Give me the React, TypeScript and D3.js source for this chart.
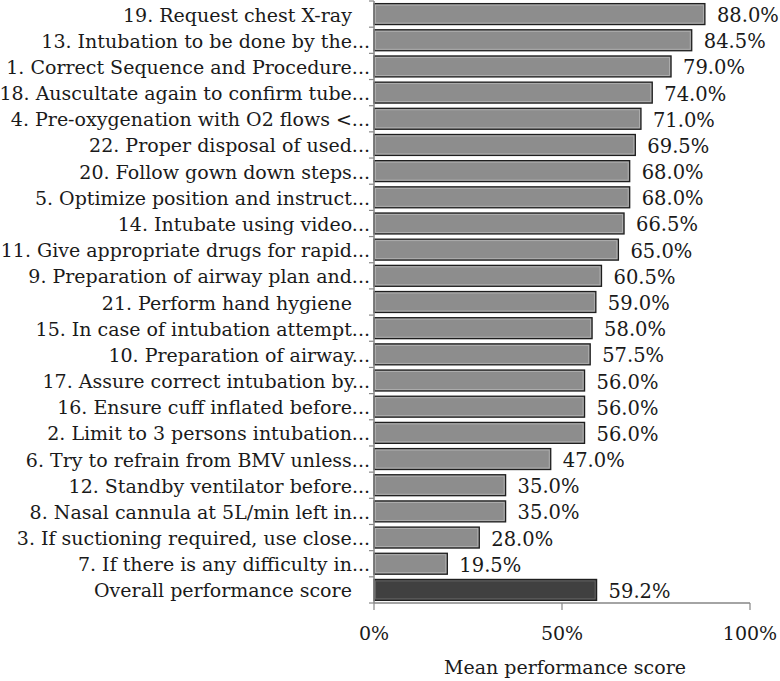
import React from "react";
import * as d3 from "d3";

const categories: string[] = [
  "19. Request chest X-ray   ",
  "13. Intubation to be done by the...",
  "1. Correct Sequence and Procedure...",
  "18. Auscultate again to confirm tube...",
  "4. Pre-oxygenation with O2 flows <...",
  "22. Proper disposal of used...",
  "20. Follow gown down steps...",
  "5. Optimize position and instruct...",
  "14. Intubate using video...",
  "11. Give appropriate drugs for rapid...",
  "9. Preparation of airway plan and...",
  "21. Perform hand hygiene   ",
  "15. In case of intubation attempt...",
  "10. Preparation of airway...",
  "17. Assure correct intubation by...",
  "16. Ensure cuff inflated before...",
  "2. Limit to 3 persons intubation...",
  "6. Try to refrain from BMV unless...",
  "12. Standby ventilator before...",
  "8. Nasal cannula at 5L/min left in...",
  "3. If suctioning required, use close...",
  "7. If there is any difficulty in...",
  "Overall performance score   ",
];

const values: number[] = [
  88.0, 84.5, 79.0, 74.0, 71.0, 69.5, 68.0, 68.0, 66.5, 65.0, 60.5, 59.0, 58.0,
  57.5, 56.0, 56.0, 56.0, 47.0, 35.0, 35.0, 28.0, 19.5, 59.2,
];

const valueLabels: string[] = [
  "88.0%", "84.5%", "79.0%", "74.0%", "71.0%", "69.5%", "68.0%", "68.0%",
  "66.5%", "65.0%", "60.5%", "59.0%", "58.0%", "57.5%", "56.0%", "56.0%",
  "56.0%", "47.0%", "35.0%", "35.0%", "28.0%", "19.5%", "59.2%",
];

const xTicks: number[] = [0, 50, 100];
const xTickLabels: string[] = ["0%", "50%", "100%"];
const xTitle = "Mean performance score";

const W = 780;
const H = 681;
const FONT = "'DejaVu Serif', serif";

export default function App() {
  const x = d3.scaleLinear().domain([0, 100]).range([374, 750]);
  const y = d3
    .scaleBand<number>()
    .domain(d3.range(categories.length))
    .range([1, 603])
    .paddingInner(0.2)
    .paddingOuter(0.1);
  const step = y.step();
  const boundaries = d3.range(categories.length + 1).map((i) => 1 + i * step);
  const last = categories.length - 1;

  return (
    <svg
      width={W}
      height={H}
      style={{ position: "absolute", left: 0, top: 0, background: "#fff" }}
      fontFamily={FONT}
    >
      {values.map((v, i) => {
        const y0 = y(i)!;
        const bw = x(v) - x(0);
        const bh = y.bandwidth();
        const fill = i === last ? "#404040" : "#8d8d8d";
        return (
          <g key={i}>
            <rect
              x={x(0)}
              y={y0}
              width={bw}
              height={bh}
              fill={fill}
              stroke="#1e1e1e"
              strokeWidth={1.3}
            />
            <rect
              x={x(0) + 1.5}
              y={y0 + 1.5}
              width={Math.max(0, bw - 3)}
              height={bh - 3}
              fill="none"
              stroke={i === last ? "#6a6a6a" : "#b4b4b4"}
              strokeWidth={0.8}
            />
          </g>
        );
      })}

      <line x1={x(0)} x2={x(0)} y1={1} y2={603} stroke="#868686" strokeWidth={1.5} />
      {boundaries.map((b, i) => (
        <line key={i} x1={x(0) - 5} x2={x(0)} y1={b} y2={b} stroke="#868686" strokeWidth={1.2} />
      ))}

      <line x1={x(0)} x2={x(100)} y1={603} y2={603} stroke="#868686" strokeWidth={1.5} />
      {xTicks.map((t, i) => (
        <g key={i}>
          <line x1={x(t)} x2={x(t)} y1={603} y2={610} stroke="#868686" strokeWidth={1.2} />
          <text
            x={x(t)}
            y={633}
            textAnchor="middle"
            dominantBaseline="central"
            fontSize={19}
            fill="#1a1a1a"
          >
            {xTickLabels[i]}
          </text>
        </g>
      ))}
      <text
        x={565}
        y={667}
        textAnchor="middle"
        dominantBaseline="central"
        fontSize={19}
        fill="#1a1a1a"
      >
        {xTitle}
      </text>

      {categories.map((c, i) => (
        <text
          key={i}
          x={370}
          y={y(i)! + y.bandwidth() / 2 + 0.5}
          textAnchor="end"
          dominantBaseline="central"
          fontSize={19}
          fill="#1a1a1a"
          style={{ whiteSpace: "pre" }}
        >
          {c}
        </text>
      ))}

      {values.map((v, i) => (
        <text
          key={i}
          x={x(v) + 12}
          y={y(i)! + y.bandwidth() / 2 + 1.5}
          dominantBaseline="central"
          fontSize={19.5}
          fill="#1a1a1a"
        >
          {valueLabels[i]}
        </text>
      ))}
    </svg>
  );
}
